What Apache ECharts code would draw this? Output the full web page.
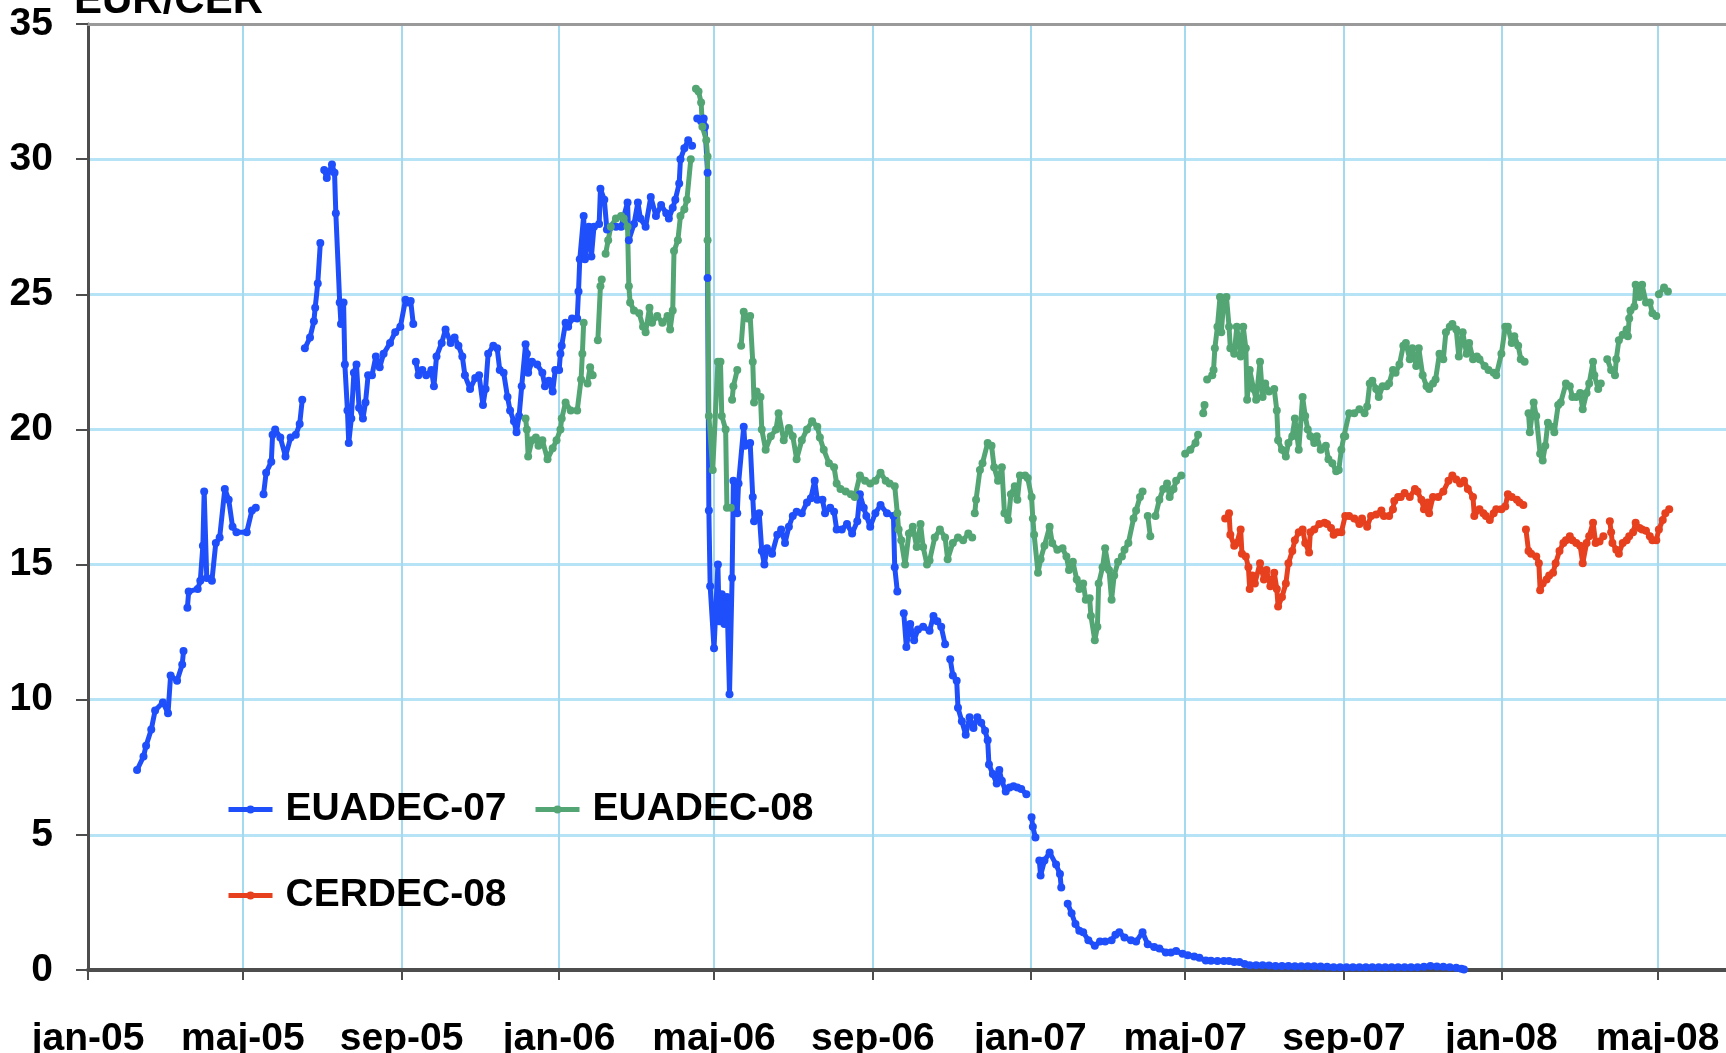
<!DOCTYPE html>
<html>
<head>
<meta charset="utf-8">
<title>EUR/CER</title>
<script src="https://cdn.jsdelivr.net/npm/echarts@6/dist/echarts.min.js"></script>
<style>
  html, body { margin: 0; padding: 0; background: #fff; overflow: hidden; }
  #chart { width: 1726px; height: 1053px; }
</style>
</head>
<body>
<div id="chart"></div>
<script>
// days counted from 1 jan 2005, value in EUR/CER; null = hole in the price series
var eua07 = [
  [38,7.4],[43,7.9],[45,8.3],[49,8.9],[52,9.6],[58,9.9],[62,9.5],[64,10.9],[69,10.7],[73,11.3],[74,11.8],[75,null],
  [77,13.4],[78,14.0],[85,14.1],[87,14.4],[89,15.7],[90,17.7],[92,14.5],[96,14.4],[99,15.8],[102,16.0],[106,17.8],
  [109,17.4],[112,16.4],[115,16.2],[123,16.2],[127,17.0],[130,17.1],[133,null],
  [136,17.6],[138,18.4],[142,18.8],[143,19.8],[145,20.0],[149,19.7],[153,19.0],[157,19.7],[161,19.8],[164,20.2],[166,21.1],[167,null],
  [168,23.0],[172,23.4],[175,24.0],[176,24.5],[178,25.4],[180,26.9],[181,null],
  [183,29.6],[185,29.3],[189,29.8],[191,29.5],[192,28.0],[195,24.7],[196,23.9],[198,24.7],[199,22.4],[201,20.7],[202,19.5],
  [204,20.4],[206,22.1],[208,22.4],[210,20.8],[213,20.4],[215,21.0],[217,22.0],[220,22.0],[223,22.7],[226,22.3],[229,22.8],
  [234,23.2],[238,23.6],[242,23.8],[246,24.8],[248,24.7],[250,24.75],[252,23.9],[253,null],
  [254,22.5],[256,22.0],[259,22.2],[262,22.0],[266,22.2],[268,21.6],[270,22.7],[274,23.2],[277,23.7],[281,23.2],[284,23.4],
  [287,23.1],[290,22.7],[292,22.0],[296,21.5],[300,21.9],[303,22.0],[306,20.9],[308,21.5],[310,22.8],[314,23.1],[317,23.0],
  [319,22.2],[322,22.1],[325,21.2],[327,20.7],[330,20.3],[332,19.9],[334,20.5],[336,21.6],[339,23.15],[340,22.8],[341,22.1],
  [344,22.5],[348,22.4],[352,22.1],[354,21.6],[357,21.8],[360,21.4],[362,22.2],[365,22.2],[366,22.8],[367,23.1],[370,23.95],
  [372,23.8],[375,24.1],[379,24.1],[380,25.1],[381,26.3],[384,27.9],[385,26.3],[388,27.5],[390,26.4],[392,27.5],[396,27.6],
  [397,28.9],[400,28.5],[402,27.4],[405,27.5],[409,27.5],[413,27.5],[418,28.4],[419,27.0],[423,27.6],[426,28.4],[428,27.8],
  [432,27.5],[436,28.6],[440,27.9],[444,28.3],[448,28.0],[450,27.8],[453,28.2],[455,28.5],[458,29.1],[459,30.0],[462,30.4],
  [465,30.7],[468,30.5],[470,null],
  [472,31.5],[475,31.4],[477,31.5],[478,31.2],[480,29.5],[480,25.6],[481,17.0],[482,14.2],[485,11.9],[488,15.0],[489,12.9],
  [491,13.9],[493,12.8],[495,13.8],[497,10.2],[499,14.5],[500,18.1],[503,16.9],[504,18.0],[508,20.1],[509,19.4],[513,19.5],
  [515,17.5],[516,16.6],[520,16.9],[522,15.5],[524,15.0],[526,15.6],[530,15.4],[534,16.1],[537,16.3],[540,15.8],[543,16.4],
  [546,16.8],[549,16.95],[553,16.9],[557,17.3],[560,17.45],[563,18.1],[565,17.4],[569,17.4],[571,16.9],[575,17.1],[578,16.95],
  [580,16.3],[584,16.3],[588,16.5],[592,16.15],[596,16.6],[598,17.6],[601,17.1],[603,16.8],[606,16.4],[610,16.9],[614,17.2],
  [619,16.9],[624,16.8],[625,14.9],[627,14.0],[629,null],
  [632,13.2],[634,11.95],[637,12.8],[640,12.2],[643,12.6],[647,12.7],[652,12.55],[655,13.1],[658,12.9],[661,12.7],[664,12.05],[666,null],
  [668,11.5],[670,10.9],[673,10.7],[674,9.7],[677,9.2],[680,8.7],[683,9.35],[686,8.95],[689,9.35],[692,9.15],[695,8.85],
  [697,8.5],[698,7.6],[701,7.25],[704,6.9],[706,7.4],[708,7.0],[711,6.6],[714,6.75],[717,6.8],[720,6.75],[723,6.7],[727,6.5],[729,null],
  [731,5.65],[732,5.3],[734,4.9],[735,null],
  [737,4.05],[738,3.5],[741,4.05],[745,4.35],[750,3.9],[753,3.55],[754,3.05],[756,null],
  [759,2.45],[762,2.1],[765,1.7],[768,1.45],[771,1.4],[775,1.1],[780,0.9],[784,1.05],[788,1.05],[793,1.1],[796,1.3],[799,1.4],
  [803,1.2],[808,1.1],[812,1.05],[817,1.4],[821,0.95],[826,0.85],[830,0.8],[835,0.65],[839,0.65],[843,0.7],[848,0.6],[852,0.55],
  [857,0.5],[861,0.45],[866,0.35],[870,0.34],[875,0.33],[880,0.33],[884,0.33],[888,0.3],[892,0.3],[896,0.22],[900,0.18],
  [905,0.18],[910,0.18],[915,0.17],[920,0.15],[925,0.15],[930,0.15],[935,0.14],[940,0.14],[945,0.14],[950,0.14],[955,0.13],
  [960,0.12],[965,0.1],[970,0.1],[975,0.1],[980,0.1],[985,0.1],[990,0.1],[995,0.1],[1000,0.1],[1005,0.1],[1010,0.1],[1015,0.1],
  [1020,0.1],[1025,0.1],[1030,0.1],[1035,0.12],[1040,0.15],[1045,0.13],[1050,0.12],[1055,0.1],[1060,0.08],[1064,0.05],[1066,0.02]
];

var eua08 = [
  [339,20.4],[340,20.0],[341,19.0],[344,19.6],[347,19.7],[349,19.4],[352,19.6],[356,18.9],[360,19.3],[363,19.6],[366,20.0],
  [367,20.4],[370,21.0],[374,20.7],[379,20.7],[382,21.85],[383,22.8],[384,23.95],[385,null],
  [387,21.7],[389,22.3],[391,22.0],[393,null],
  [395,23.3],[397,25.3],[398,25.55],[399,null],
  [401,26.5],[403,27.0],[405,27.5],[409,27.8],[413,27.9],[415,27.8],[418,27.5],[419,25.3],[420,24.7],[423,24.4],[427,24.3],
  [430,23.8],[432,23.6],[435,24.5],[437,23.95],[441,24.2],[445,23.95],[449,24.2],[451,23.7],[453,24.4],[454,26.6],[457,27.0],
  [459,27.9],[462,28.15],[464,28.5],[467,30.0],[469,null],
  [471,32.6],[473,32.5],[475,32.1],[476,31.2],[479,30.7],[480,30.1],[480,27.0],[481,20.5],[484,18.5],[488,22.5],[490,22.5],
  [491,20.5],[494,20.0],[495,17.1],[498,17.1],[498.5,null],
  [499,21.1],[500,21.6],[503,22.2],[504,null],
  [506,23.1],[508,24.35],[511,24.1],[513,24.2],[515,22.5],[516,21.0],[518,21.4],[521,21.2],[522,20.0],[525,19.25],[529,19.75],
  [533,20.0],[535,20.6],[539,19.6],[543,20.05],[546,19.75],[549,18.9],[553,19.6],[557,20.0],[561,20.3],[565,20.1],[567,19.7],
  [570,19.25],[574,18.75],[578,18.6],[580,18.0],[583,17.8],[587,17.7],[591,17.6],[594,17.5],[598,18.3],[602,18.1],[606,18.0],
  [610,18.1],[614,18.4],[618,18.1],[621,18.0],[625,17.9],[627,16.9],[628,16.3],[630,15.9],[633,15.0],[636,16.15],[639,16.4],
  [642,15.65],[645,16.5],[647,15.65],[650,15.0],[652,15.15],[656,16.0],[660,16.3],[664,16.0],[666,15.2],[670,15.8],[674,16.0],
  [678,15.9],[682,16.15],[685,16.0],[686,null],
  [687,16.9],[688,17.4],[691,18.5],[693,18.75],[697,19.5],[700,19.4],[702,18.6],[705,18.1],[708,18.6],[710,16.9],[713,16.65],
  [715,17.6],[718,17.9],[720,17.4],[722,18.3],[724,null],
  [726,18.3],[728,18.2],[731,17.5],[732,16.7],[733,16.1],[736,14.7],[738,15.2],[741,15.7],[745,16.4],[747,15.8],[751,15.55],
  [755,15.6],[758,15.3],[760,14.8],[763,15.1],[766,14.45],[768,14.1],[771,14.3],[773,13.7],[776,13.75],[777,13.1],[780,12.2],
  [782,12.7],[783,14.3],[786,14.9],[788,15.6],[791,14.8],[793,13.7],[795,14.6],[798,15.1],[801,15.3],[803,15.55],[806,15.8],
  [810,16.7],[812,17.0],[815,17.5],[817,17.7],[819,null],
  [821,16.8],[823,16.05],[825,null],
  [827,16.8],[830,17.4],[833,17.8],[836,18.0],[838,17.5],[841,17.8],[843,18.1],[847,18.3],[848,null],
  [850,19.1],[854,19.25],[858,19.5],[860,19.8],[862,null],
  [864,20.6],[865,20.9],[866,null],
  [867,21.85],[871,22.0],[872,22.2],[873,23.0],[875,23.8],[877,24.9],[878,23.6],[880,24.8],[882,24.9],[884,23.8],[885,23.0],
  [888,22.8],[890,23.8],[893,22.7],[895,23.8],[897,23.0],[898,21.1],[900,22.2],[903,21.5],[905,21.1],[908,22.5],[910,21.2],
  [912,21.7],[915,21.4],[919,21.5],[921,20.7],[922,19.6],[925,19.25],[928,19.0],[930,19.5],[933,19.75],[935,20.4],[938,19.25],
  [941,21.2],[943,20.5],[945,20.0],[947,19.75],[950,19.5],[952,19.75],[955,19.25],[959,19.4],[961,18.9],[964,18.75],[967,18.45],
  [969,18.5],[971,19.25],[973,19.75],[974,19.75],[977,20.6],[981,20.6],[985,20.75],[989,20.6],[991,20.85],[993,21.7],[995,21.8],
  [998,21.5],[1000,21.2],[1003,21.6],[1006,21.6],[1008,21.7],[1011,22.2],[1013,22.1],[1016,22.4],[1019,23.1],[1021,23.2],
  [1024,22.6],[1026,23.0],[1029,22.35],[1031,23.0],[1034,22.0],[1037,21.6],[1039,21.5],[1042,21.7],[1044,21.85],[1047,22.8],
  [1050,22.6],[1052,23.6],[1055,23.8],[1057,23.9],[1060,23.7],[1062,22.7],[1065,23.6],[1068,22.8],[1070,23.2],[1073,22.6],
  [1076,22.7],[1078,22.6],[1082,22.35],[1085,22.2],[1089,22.1],[1091,22.0],[1095,22.8],[1098,23.8],[1100,23.8],[1103,23.2],
  [1105,23.45],[1108,23.1],[1110,22.6],[1113,22.5],[1114,null],
  [1116,20.6],[1117,19.9],[1120,21.0],[1122,20.5],[1125,19.1],[1127,18.85],[1129,19.4],[1131,20.25],[1134,20.1],[1136,19.9],
  [1139,20.9],[1141,21.0],[1145,21.7],[1148,21.6],[1150,21.2],[1153,21.2],[1156,21.35],[1158,20.75],[1161,21.35],[1163,21.7],
  [1166,22.5],[1167,22.0],[1170,21.5],[1172,21.7],[1175,null],
  [1177,22.6],[1180,22.2],[1183,22.0],[1184,22.6],[1186,23.3],[1189,23.5],[1192,23.7],[1193,23.45],[1194,24.1],[1195,24.4],
  [1198,24.55],[1199,25.35],[1202,24.9],[1204,25.35],[1207,24.7],[1210,24.7],[1212,24.3],[1215,24.2],[1216,null],
  [1217,25.0],[1221,25.25],[1224,25.1]
];

var cer08 = [
  [881,16.7],[884,16.9],[885,16.1],[888,15.7],[890,15.8],[893,16.3],[894,15.4],[897,15.3],[899,14.9],[900,14.1],[902,14.6],
  [904,14.3],[908,15.05],[911,14.45],[913,14.8],[916,14.2],[919,14.7],[921,14.1],[922,13.45],[925,13.8],[928,14.3],[930,15.05],
  [933,15.5],[935,15.9],[938,16.2],[941,16.3],[943,15.8],[946,15.45],[947,16.2],[950,16.3],[954,16.5],[958,16.55],[960,16.5],
  [963,16.35],[965,16.1],[968,16.2],[971,16.2],[974,16.8],[977,16.8],[981,16.7],[985,16.5],[987,16.7],[991,16.4],[994,16.8],
  [998,16.85],[1002,17.0],[1004,16.8],[1008,16.8],[1011,17.05],[1012,17.35],[1015,17.5],[1017,17.5],[1020,17.65],[1024,17.5],
  [1028,17.8],[1030,17.7],[1033,17.4],[1035,17.05],[1038,17.3],[1039,16.9],[1042,17.5],[1046,17.5],[1050,17.7],[1054,18.1],
  [1057,18.3],[1060,18.15],[1063,18.0],[1066,18.1],[1069,17.8],[1073,17.5],[1074,16.8],[1078,17.05],[1081,16.9],[1083,16.8],
  [1086,16.65],[1089,16.9],[1091,17.05],[1095,17.05],[1098,17.15],[1100,17.6],[1103,17.5],[1107,17.4],[1109,17.3],[1112,17.2],[1113,null],
  [1114,16.3],[1116,15.5],[1118,15.4],[1122,15.3],[1124,15.05],[1125,14.05],[1127,14.3],[1130,14.45],[1132,14.6],[1135,14.7],
  [1137,15.05],[1140,15.5],[1143,15.8],[1145,15.9],[1148,16.05],[1150,15.9],[1153,15.8],[1156,15.7],[1158,15.05],[1161,15.8],
  [1163,16.05],[1166,16.55],[1168,15.8],[1171,15.85],[1174,16.05],[1176,null],
  [1179,16.6],[1180,16.2],[1181,15.8],[1184,15.55],[1186,15.4],[1189,15.8],[1192,15.9],[1194,16.05],[1197,16.2],[1199,16.55],
  [1202,16.35],[1204,16.3],[1207,16.25],[1210,16.05],[1212,15.9],[1215,15.9],[1217,16.3],[1220,16.65],[1222,16.9],[1225,17.05]
];

// x-axis ticks (day counted from 1 jan 2005) and their labels
var tickDays = [0, 120, 243, 365, 485, 608, 730, 850, 973, 1095, 1216];
var tickLabels = ['jan-05', 'maj-05', 'sep-05', 'jan-06', 'maj-06', 'sep-06', 'jan-07', 'maj-07', 'sep-07', 'jan-08', 'maj-08'];
var lastDay = 1269;

var fontFamily = "'Liberation Sans', Arial, Helvetica, sans-serif";
var colors = ['#1f4ffa', '#53a574', '#e6401f'];

function toSeries(rows) {
  return rows.map(function (r) {
    return [r[0], r[1] === null ? '-' : r[1]];
  });
}

function lineSeries(name, rows, color) {
  return {
    name: name,
    type: 'line',
    data: toSeries(rows),
    connectNulls: false,
    symbol: 'circle',
    symbolSize: 8,
    showSymbol: true,
    lineStyle: { color: color, width: 5 },
    itemStyle: { color: color },
    emphasis: { disabled: true }
  };
}

function legendAt(name, left, top) {
  return {
    data: [name],
    left: left,
    top: top,
    padding: 0,
    itemWidth: 44,
    itemHeight: 10,
    selectedMode: false,
    lineStyle: { width: 5 },
    textStyle: { fontFamily: fontFamily, fontSize: 39, fontWeight: 'bold', color: '#000', padding: [0, 0, 0, 8] }
  };
}

var chart = echarts.init(document.getElementById('chart'));
chart.setOption({
  animation: false,
  color: colors,
  title: {
    text: 'EUR/CER',
    left: 74,
    top: -20,
    padding: 0,
    textStyle: { fontFamily: fontFamily, fontSize: 42, fontWeight: 'bold', color: '#000' }
  },
  legend: [
    legendAt('EUADEC-07', 226, 790),
    legendAt('EUADEC-08', 533, 790),
    legendAt('CERDEC-08', 226, 876)
  ],
  grid: { left: 88, right: 0, top: 24, bottom: 83, containLabel: false, outerBoundsMode: 'none' },
  xAxis: [{
    type: 'value',
    min: 0,
    max: lastDay,
    axisLine: { lineStyle: { color: '#4d4d4d', width: 4 } },
    axisTick: { show: true, length: 10, customValues: tickDays, lineStyle: { color: '#4d4d4d', width: 2 } },
    axisLabel: {
      customValues: tickDays,
      margin: 36,
      padding: [14, 0, 0, 0],
      fontFamily: fontFamily,
      fontSize: 39,
      fontWeight: 'bold',
      color: '#000',
      formatter: function (v) {
        var i = tickDays.indexOf(v);
        return i < 0 ? '' : tickLabels[i];
      }
    },
    splitLine: { show: true, lineStyle: { color: '#a3daf0', width: 2 } }
  }, {
    type: 'value',
    position: 'top',
    min: 0,
    max: lastDay,
    axisLine: { show: true, lineStyle: { color: '#9a9a9a', width: 3 } },
    axisTick: { show: false },
    axisLabel: { show: false },
    splitLine: { show: false }
  }],
  yAxis: {
    type: 'value',
    min: 0,
    max: 35,
    interval: 5,
    axisLine: { show: true, lineStyle: { color: '#4d4d4d', width: 3 } },
    axisTick: { show: true, length: 12, lineStyle: { color: '#4d4d4d', width: 2 } },
    axisLabel: { margin: 35, fontFamily: fontFamily, fontSize: 39, fontWeight: 'bold', color: '#000' },
    splitLine: { show: true, lineStyle: { color: '#b6e3f5', width: 3 } }
  },
  series: [
    lineSeries('EUADEC-07', eua07, colors[0]),
    lineSeries('EUADEC-08', eua08, colors[1]),
    lineSeries('CERDEC-08', cer08, colors[2])
  ]
});
</script>
</body>
</html>
